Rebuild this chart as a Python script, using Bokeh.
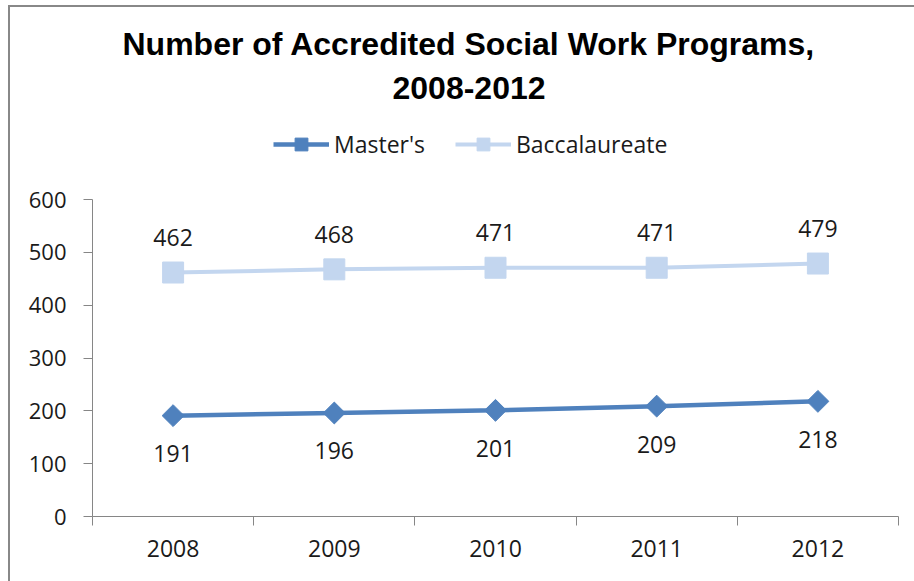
from bokeh.plotting import figure
from bokeh.models import (ColumnDataSource, Range1d, FixedTicker, LabelSet,
                          Legend, LegendItem, Title)
from bokeh.core.properties import value
from bokeh.embed import file_html
from bokeh.resources import INLINE

years = ["2008", "2009", "2010", "2011", "2012"]
masters = [191, 196, 201, 209, 218]
bacc = [462, 468, 471, 471, 479]
y_ticks = [0, 100, 200, 300, 400, 500, 600]
title_lines = ["Number of Accredited Social Work Programs,", "2008-2012"]

FONT = "Open Sans"
BLUE = "#4F81BD"
LIGHT = "#C3D6EF"
GRAY = "#868686"
TXT = "#1a1a1a"
Y_TOP = 765  # frame extends above the 600 axis end to hold the legend

xs = [i + 0.5 for i in range(len(years))]
src = ColumnDataSource(dict(x=xs, m=masters, b=bacc,
                            ml=[str(v) for v in masters],
                            bl=[str(v) for v in bacc]))

p = figure(width=914, height=581, output_backend="svg", toolbar_location=None,
           x_range=Range1d(0, len(years)), y_range=Range1d(0, Y_TOP),
           min_border_left=92, min_border_right=16, min_border_top=112,
           min_border_bottom=65)
p.styles = {"background": "linear-gradient(#888888,#888888) 8px 5px / 2px 100% no-repeat, "
                          "linear-gradient(#888888,#888888) 8px 5px / 100% 2px no-repeat, white"}
p.outline_line_color = None
p.xgrid.grid_line_color = None
p.ygrid.grid_line_color = None
p.background_fill_color = "white"
p.border_fill_color = None

p.title.text = ""
p.add_layout(Title(text=title_lines[1], align="left", text_font="Liberation Sans",
                   text_font_style="bold", text_font_size="32px", offset=300,
                   text_color="#000000", standoff=27), "above")
p.add_layout(Title(text=title_lines[0], align="left", text_font="Liberation Sans",
                   text_font_style="bold", text_font_size="32px", offset=30,
                   text_color="#000000", standoff=0), "above")

# x axis: labels at centres, ticks at category boundaries
xa = p.xaxis[0]
xa.ticker = FixedTicker(ticks=xs, minor_ticks=list(range(len(years) + 1)))
xa.major_label_overrides = {x: y for x, y in zip(xs, years)}
xa.major_tick_line_color = None
xa.minor_tick_line_color = GRAY
xa.minor_tick_in = 0
xa.minor_tick_out = 9
xa.axis_line_color = GRAY
xa.major_label_text_font = FONT
xa.major_label_text_font_size = "23px"
xa.major_label_text_color = TXT
xa.major_label_standoff = 14

ya = p.yaxis[0]
ya.ticker = FixedTicker(ticks=y_ticks)
ya.bounds = (0, 600)
ya.minor_tick_line_color = None
ya.major_tick_line_color = GRAY
ya.major_tick_in = 0
ya.major_tick_out = 9
ya.axis_line_color = GRAY
ya.major_label_text_font = FONT
ya.major_label_text_font_size = "22px"
ya.major_label_text_color = TXT
ya.major_label_standoff = 17

bl = p.line("x", "b", source=src, line_color=LIGHT, line_width=4)
bs = p.scatter("x", "b", source=src, marker="square", size=21,
               fill_color=LIGHT, line_color=LIGHT)
ml = p.line("x", "m", source=src, line_color=BLUE, line_width=4.5)
ms = p.scatter("x", "m", source=src, marker="square", size=15.5, angle=0.785398,
               fill_color=BLUE, line_color=BLUE)

p.add_layout(LabelSet(x="x", y="b", text="bl", source=src, y_offset=35,
                      text_align="center", text_baseline="middle",
                      text_font=value(FONT), text_font_size="23px",
                      text_color=TXT))
p.add_layout(LabelSet(x="x", y="m", text="ml", source=src, y_offset=-38,
                      text_align="center", text_baseline="middle",
                      text_font=value(FONT), text_font_size="23px",
                      text_color=TXT))

legend = Legend(items=[LegendItem(label="Master's", renderers=[ml, ms]),
                       LegendItem(label="Baccalaureate", renderers=[bl, bs])],
                orientation="horizontal", location=(181, 356),
                glyph_width=56, glyph_height=32, label_standoff=5,
                spacing=30, padding=0, margin=0,
                label_text_font=FONT, label_text_font_size="23px",
                label_text_color=TXT,
                border_line_color=None, background_fill_alpha=0)
p.add_layout(legend)

open("out.html", "w").write(file_html(p, INLINE))
